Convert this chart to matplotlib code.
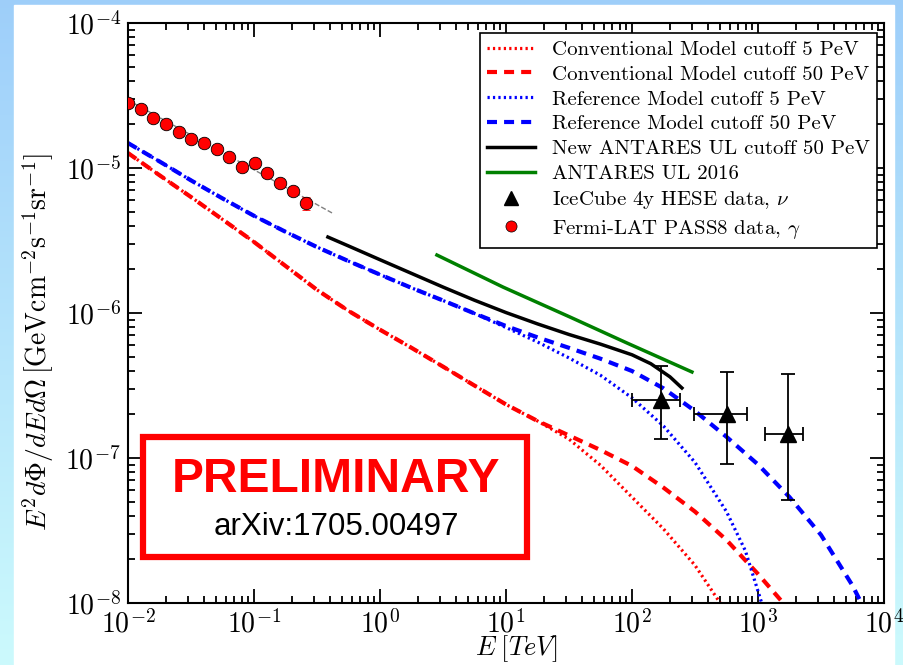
import numpy as np
import matplotlib
matplotlib.use('Agg')
import matplotlib.pyplot as plt
from matplotlib.patches import Rectangle
from matplotlib.lines import Line2D

plt.rcParams['font.family'] = 'cmr10'
plt.rcParams['mathtext.fontset'] = 'cm'
plt.rcParams['axes.formatter.use_mathtext'] = True

# Fermi-LAT PASS8 gamma data (TeV, GeV cm-2 s-1 sr-1)
fermi_E = [0.0100, 0.0127, 0.0158, 0.0200, 0.0254, 0.0316, 0.0401, 0.0508,
           0.0634, 0.0804, 0.102, 0.127, 0.161, 0.204, 0.259]
fermi_F = [2.81e-5, 2.55e-5, 2.21e-5, 2.01e-5, 1.77e-5, 1.58e-5, 1.49e-5, 1.35e-5,
           1.19e-5, 1.02e-5, 1.08e-5, 9.2e-6, 7.9e-6, 6.9e-6, 5.7e-6]
fermi_err = [0.4e-6, 0.4e-6, 0.3e-6, 0.3e-6, 0.3e-6, 0.3e-6, 0.3e-6, 0.3e-6,
             0.3e-6, 0.3e-6, 0.3e-6, 0.3e-6, 0.4e-6, 0.4e-6, 0.6e-6]
fit_E = [0.01, 0.416]
fit_F = [2.94e-5, 4.9e-6]

# Reference model (blue)
ref50_E = [0.01, 0.0178, 0.0316, 0.0562, 0.1, 0.178, 0.316, 0.562, 1.0, 1.78,
           3.16, 5.62, 10, 17.8, 31.6, 56.2, 100, 178, 316, 562,
           1000, 1780, 3160, 5620, 6610]
ref50_F = [1.486e-5, 1.109e-5, 8.22e-6, 6.17e-6, 4.68e-6, 3.63e-6, 2.85e-6, 2.28e-6, 1.84e-6, 1.49e-6,
           1.22e-6, 9.93e-7, 8.13e-7, 6.79e-7, 5.75e-7, 4.84e-7, 3.98e-7, 3.02e-7, 2.11e-7, 1.40e-7,
           9.02e-8, 5.37e-8, 2.95e-8, 1.32e-8, 1.0e-8]
ref5_E = [0.01, 0.0178, 0.0316, 0.0562, 0.1, 0.178, 0.316, 0.562, 1.0, 1.78,
          3.16, 5.62, 10, 17.8, 31.6, 56.2, 100, 178, 316, 562,
          794, 1070]
ref5_F = [1.486e-5, 1.109e-5, 8.22e-6, 6.17e-6, 4.68e-6, 3.63e-6, 2.85e-6, 2.28e-6, 1.84e-6, 1.49e-6,
          1.22e-6, 9.93e-7, 7.94e-7, 6.31e-7, 4.90e-7, 3.72e-7, 2.60e-7, 1.66e-7, 9.33e-8, 4.27e-8,
          2.29e-8, 1.0e-8]

# Conventional model (red)
conv50_E = [0.01, 0.0178, 0.0316, 0.0562, 0.1, 0.178, 0.316, 0.562, 1.0, 1.78,
            3.16, 5.62, 10, 17.8, 31.6, 56.2, 100, 178, 316, 562,
            1000, 1585]
conv50_F = [1.268e-5, 8.91e-6, 6.31e-6, 4.42e-6, 3.09e-6, 2.11e-6, 1.445e-6, 1.035e-6, 7.67e-7, 5.75e-7,
            4.27e-7, 3.16e-7, 2.34e-7, 1.80e-7, 1.43e-7, 1.135e-7, 8.81e-8, 6.24e-8, 4.27e-8, 2.72e-8,
            1.585e-8, 1.0e-8]
conv5_E = [0.01, 0.0178, 0.0316, 0.0562, 0.1, 0.178, 0.316, 0.562, 1.0, 1.78,
           3.16, 5.62, 10, 17.8, 31.6, 56.2, 100, 178, 316, 501]
conv5_F = [1.268e-5, 8.91e-6, 6.31e-6, 4.42e-6, 3.09e-6, 2.11e-6, 1.445e-6, 1.035e-6, 7.67e-7, 5.75e-7,
           4.27e-7, 3.16e-7, 2.34e-7, 1.80e-7, 1.35e-7, 8.91e-8, 5.37e-8, 3.24e-8, 1.82e-8, 1.0e-8]

# ANTARES upper limits
new_ul_E = [0.386, 0.562, 1.0, 1.78, 3.16, 5.62, 10, 17.8, 31.6, 56.2, 100, 141, 200, 249]
new_ul_F = [3.34e-6, 2.90e-6, 2.33e-6, 1.875e-6, 1.51e-6, 1.225e-6, 1.007e-6, 8.41e-7,
            7.11e-7, 6.10e-7, 5.15e-7, 4.47e-7, 3.63e-7, 3.04e-7]
ul2016_E = [2.83, 9.46, 32.2, 91.2, 299]
ul2016_F = [2.51e-6, 1.51e-6, 9.38e-7, 6.21e-7, 3.92e-7]

# IceCube 4y HESE neutrino data
ic_E = [170, 568, 1730]
ic_F = [2.51e-7, 2.01e-7, 1.47e-7]
ic_Elo = [100, 310, 1137]
ic_Ehi = [240, 818, 2275]
ic_Flo = [1.35e-7, 9.1e-8, 5.13e-8]
ic_Fhi = [4.30e-7, 3.92e-7, 3.79e-7]

fig = plt.figure(figsize=(9.04, 6.65), dpi=100)

# slide background
bg = fig.add_axes([0, 0, 1, 1], zorder=-10)
grad = np.linspace(0, 1, 256).reshape(-1, 1)
top_c = np.array([0.62, 0.81, 0.98])
bot_c = np.array([0.80, 0.98, 0.99])
img = top_c + grad[..., None] * (bot_c - top_c)
bg.imshow(img, aspect='auto', extent=[0, 1, 0, 1], origin='upper')
bg.add_patch(Rectangle((14 / 904, 0), (894 - 14) / 904, 1 - 5 / 665, color='white'))
bg.set_xlim(0, 1)
bg.set_ylim(0, 1)
bg.axis('off')

ax = fig.add_axes([128 / 904, 1 - 603 / 665, (884 - 128) / 904, (603 - 23) / 665])

dotted = (0, (0.7, 1.0))
dashed = (0, (2.4, 1.7))
ax.plot(conv5_E, conv5_F, color='red', ls=dotted, lw=2.3)
ax.plot(conv50_E, conv50_F, color='red', ls=dashed, lw=3)
ax.plot(ref5_E, ref5_F, color='blue', ls=dotted, lw=2.3)
ax.plot(ref50_E, ref50_F, color='blue', ls=dashed, lw=3)
ax.plot(new_ul_E, new_ul_F, color='black', lw=2.5)
ax.plot(ul2016_E, ul2016_F, color='green', lw=2.5)

ic_E_arr = np.array(ic_E)
ic_F_arr = np.array(ic_F)
ax.errorbar(ic_E, ic_F,
            xerr=[ic_E_arr - np.array(ic_Elo), np.array(ic_Ehi) - ic_E_arr],
            yerr=[ic_F_arr - np.array(ic_Flo), np.array(ic_Fhi) - ic_F_arr],
            fmt='^', color='black', ms=11, elinewidth=1.3, capsize=5, capthick=1.3)

ax.plot(fit_E, fit_F, color='gray', ls='--', lw=1, zorder=2)
ax.errorbar(fermi_E, fermi_F, yerr=fermi_err, fmt='o', color='red', mec='black', mew=0.6,
            ms=9, ecolor='red', elinewidth=1, capsize=3, zorder=3)

ax.set_xscale('log')
ax.set_yscale('log')
ax.set_xlim(1e-2, 1e4)
ax.set_ylim(1e-8, 1e-4)
ax.tick_params(which='both', direction='in', top=True, right=True, labelsize=20, width=1.3)
ax.tick_params(which='major', length=10, pad=5)
ax.tick_params(which='minor', length=5)
for s in ax.spines.values():
    s.set_linewidth(1.5)

ax.set_xlabel(r'$E\;[TeV]$', fontsize=19)
ax.xaxis.set_label_coords((517 - 128) / 756, -0.053)
ax.set_ylabel(r'$E^2d\Phi/dEd\Omega\,[\mathrm{GeVcm^{-2}s^{-1}sr^{-1}}]$', fontsize=20)
ax.yaxis.set_label_coords(-0.095, (603 - 342) / 580)

handles = [
    Line2D([], [], color='red', ls=dotted, lw=2.3),
    Line2D([], [], color='red', ls=dashed, lw=3),
    Line2D([], [], color='blue', ls=dotted, lw=2.3),
    Line2D([], [], color='blue', ls=dashed, lw=3),
    Line2D([], [], color='black', lw=2.5),
    Line2D([], [], color='green', lw=2.5),
    Line2D([], [], color='black', marker='^', ls='none', ms=10),
    Line2D([], [], color='red', marker='o', mec='black', mew=0.5, ls='none', ms=8),
]
labels = ['Conventional Model cutoff 5 PeV', 'Conventional Model cutoff 50 PeV',
          'Reference Model cutoff 5 PeV', 'Reference Model cutoff 50 PeV',
          'New ANTARES UL cutoff 50 PeV', 'ANTARES UL 2016',
          r'IceCube 4y HESE data, $\nu$', r'Fermi-LAT PASS8 data, $\gamma$']
leg = ax.legend(handles, labels, loc='upper right', bbox_to_anchor=(1 - 7 / 756, 1 - 10 / 580),
                borderaxespad=0, fontsize=15, frameon=True, fancybox=False,
                edgecolor='black', framealpha=1, handlelength=2.3, handletextpad=0.8,
                labelspacing=0.3, borderpad=0.35, numpoints=1)
leg.get_frame().set_linewidth(1.2)

# PRELIMINARY stamp
stamp = Rectangle((143 / 904, 1 - 557 / 665), (527 - 143) / 904, (557 - 437) / 665,
                  transform=fig.transFigure, fill=False, edgecolor='red', lw=4.5, zorder=5)
fig.patches.append(stamp)
fig.text(336 / 904, 1 - 480 / 665, 'PRELIMINARY', color='red', fontsize=34.5,
         fontweight='bold', family='Liberation Sans', ha='center', va='center')
fig.text(336 / 904, 1 - 527 / 665, 'arXiv:1705.00497', color='black', fontsize=22.5,
         family='Liberation Sans', ha='center', va='center')

fig.savefig('out.png', dpi=100)
